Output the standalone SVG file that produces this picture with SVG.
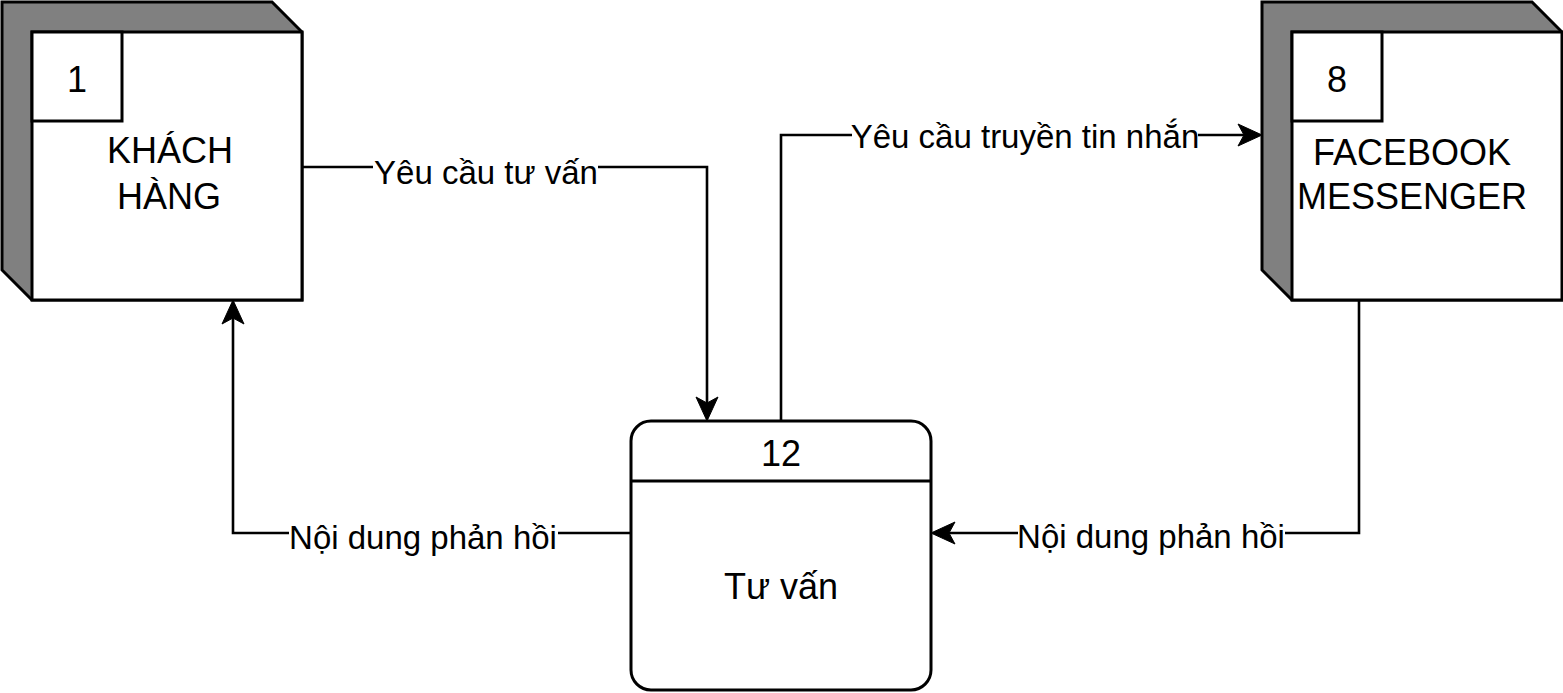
<svg xmlns="http://www.w3.org/2000/svg" width="1563" height="693" viewBox="0 0 1563 693">
<style>
.side{fill:#808080;stroke:#000;stroke-width:3;stroke-linejoin:miter}
.face{fill:#fff;stroke:#000;stroke-width:3}
.ln{fill:none;stroke:#000;stroke-width:3}
.conn{fill:none;stroke:#000;stroke-width:2.6}
.nt{font-family:"Liberation Sans",Arial,sans-serif;font-size:36px;fill:#000;text-anchor:middle}
.lt{font-family:"Liberation Sans",Arial,sans-serif;font-size:33px;fill:#000;text-anchor:middle}
.bg{fill:#fff}
</style>
<defs>
<marker id="arr" markerUnits="userSpaceOnUse" markerWidth="40" markerHeight="40" viewBox="-10 -15 40 30" refX="0" refY="0" orient="auto">
<path d="M18,0 L-6,-11 L0,0 L-6,11 Z" fill="#000" stroke="#000" stroke-width="1"/>
</marker>
</defs>
<g id="connectors">
<path class="conn" d="M302,167 H707 V403" marker-end="url(#arr)"/>
<path class="conn" d="M781,421 V135 H1244" marker-end="url(#arr)"/>
<path class="conn" d="M1359,300 V533 H949" marker-end="url(#arr)"/>
<path class="conn" d="M631,533 H233 V318" marker-end="url(#arr)"/>
<rect class="bg" x="373" y="150" width="225" height="42"/>
<text class="lt" x="486" y="184">Yêu cầu tư vấn</text>
<rect class="bg" x="852" y="114" width="346" height="42"/>
<text class="lt" x="1025" y="148">Yêu cầu truyền tin nhắn</text>
<rect class="bg" x="289" y="514" width="269" height="42"/>
<text class="lt" x="423" y="549">Nội dung phản hồi</text>
<rect class="bg" x="1018" y="514" width="267" height="42"/>
<text class="lt" x="1151" y="548">Nội dung phản hồi</text>
</g>
<g id="node-khach-hang">
<path class="side" d="M2,2 H272 L302,32 V300 H32 L2,270 Z"/>
<rect class="face" x="32" y="32" width="270" height="268"/>
<rect class="face" x="32" y="32" width="90" height="89"/>
<text class="nt" x="77" y="92">1</text>
<text class="nt" x="170" y="163">KHÁCH</text>
<text class="nt" x="169" y="209">HÀNG</text>
</g>
<g id="node-facebook">
<path class="side" d="M1262,2 H1532 L1562,32 V300 H1292 L1262,270 Z"/>
<rect class="face" x="1292" y="32" width="270" height="268"/>
<rect class="face" x="1292" y="32" width="90" height="89"/>
<text class="nt" x="1337" y="92">8</text>
<text class="nt" x="1412" y="165">FACEBOOK</text>
<text class="nt" x="1412" y="209">MESSENGER</text>
</g>
<g id="node-tu-van">
<rect class="face" x="631" y="421" width="300" height="269" rx="20" ry="20"/>
<line class="ln" x1="631" y1="481" x2="931" y2="481"/>
<text class="nt" x="781" y="466">12</text>
<text class="nt" x="781" y="599">Tư vấn</text>
</g>
</svg>
